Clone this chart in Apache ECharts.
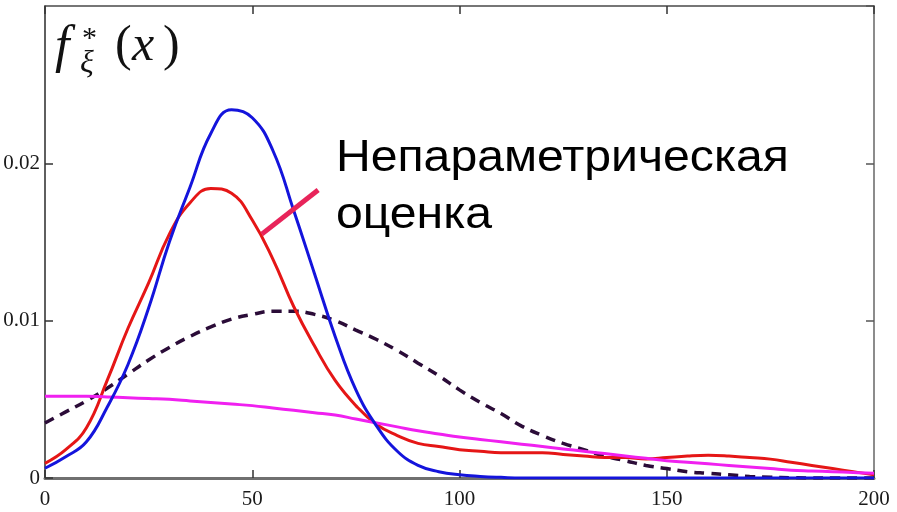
<!DOCTYPE html>
<html>
<head>
<meta charset="utf-8">
<script src="https://cdn.jsdelivr.net/npm/echarts@6/dist/echarts.min.js"></script>
<style>
  html, body { margin: 0; padding: 0; background: #ffffff; }
  #chart { width: 897px; height: 512px; }
</style>
</head>
<body>
<div id="chart"></div>
<script>
// Sample points along x (step 5, 0..200)
const xs = [0, 5, 10, 15, 20, 25, 30, 35, 40, 45, 50, 55, 60, 65, 70, 75, 80, 85, 90, 95,
            100, 105, 110, 115, 120, 125, 130, 135, 140, 145, 150, 155, 160, 165, 170, 175,
            180, 185, 190, 195, 200];

// Parametric density (narrow, blue)
const blueDensity = [0.00062, 0.00135, 0.0023, 0.0045, 0.0072, 0.0108, 0.0150, 0.0185, 0.0219, 0.0234,
                     0.0229, 0.0208, 0.0170, 0.0130, 0.0090, 0.0056, 0.0033, 0.0017, 0.0008, 0.0004,
                     0.0002, 0.0001, 0.00004, 0, 0, 0, 0, 0, 0, 0,
                     0, 0, 0, 0, 0, 0, 0, 0, 0, 0, 0];

// Nonparametric estimate (red)
const redDensity = [0.00093, 0.0018, 0.0032, 0.0062, 0.0095, 0.0124, 0.0155, 0.0175, 0.0184, 0.0181,
                    0.0164, 0.0139, 0.0109, 0.0084, 0.0062, 0.0046, 0.0034, 0.0027, 0.0022, 0.0020,
                    0.0018, 0.0017, 0.0016, 0.0016, 0.0016, 0.0015, 0.0014, 0.0013, 0.0013, 0.0012,
                    0.0013, 0.0014, 0.00145, 0.0014, 0.0013, 0.0012, 0.0010, 0.0008, 0.0006, 0.0004, 0.0002];

// Wide density (dashed)
const dashedDensity = [0.0035, 0.0042, 0.0049, 0.0057, 0.0066, 0.0075, 0.0083, 0.0090, 0.0096, 0.0101,
                       0.0104, 0.0106, 0.0106, 0.0104, 0.0100, 0.0094, 0.0088, 0.0081, 0.0073, 0.0065,
                       0.0056, 0.0048, 0.0041, 0.0033, 0.0027, 0.0022, 0.0018, 0.0014, 0.0011, 0.0008,
                       0.0006, 0.0004, 0.0003, 0.0002, 0.0001, 0.00005, 0.00002, 0, 0, 0, 0];

// Flat density (magenta)
const magentaDensity = [0.0052, 0.0052, 0.0052, 0.00515, 0.0051, 0.00505, 0.0050, 0.0049, 0.0048, 0.0047,
                        0.0046, 0.00445, 0.0043, 0.00415, 0.0040, 0.00375, 0.0035, 0.00325, 0.0030, 0.0028,
                        0.0026, 0.00245, 0.0023, 0.00215, 0.0020, 0.00185, 0.0017, 0.00155, 0.0014, 0.00125,
                        0.0011, 0.0010, 0.0009, 0.0008, 0.0007, 0.0006, 0.0005, 0.00045, 0.0004, 0.00035, 0.0003];

const xTicks = [0, 50, 100, 150, 200];
const yTicks = [0, 0.01, 0.02];

// Pointer from the caption to the red curve, in data coordinates
const pointerStart = [52.3, 0.0155];
const pointerEnd = [65.9, 0.0183];

const captionLines = ['Непараметрическая', 'оценка'];

function pairs(values) {
  return xs.map((x, i) => [x, values[i]]);
}

const serif = '"Liberation Serif", "DejaVu Serif", serif';
const sans = '"Liberation Sans", Arial, sans-serif';

const chart = echarts.init(document.getElementById('chart'), null, { renderer: 'canvas' });

const axisLabelStyle = { color: '#1a1a1a', fontFamily: serif, fontSize: 21 };
const smoothness = 0.45;

chart.setOption({
  animation: false,
  backgroundColor: '#ffffff',
  grid: { left: 45, right: 23, top: 6, bottom: 34, containLabel: false },
  xAxis: [
    {
      type: 'value', position: 'bottom', min: 0, max: 200, interval: 50,
      axisLine: { show: true, onZero: false, lineStyle: { color: '#707070', width: 3 } },
      axisTick: { show: true, inside: true, length: 8, lineStyle: { color: '#333', width: 1.5 } },
      axisLabel: {
        ...axisLabelStyle, margin: 11,
        formatter: v => (xTicks.indexOf(v) >= 0 ? String(v) : '')
      },
      splitLine: { show: false }
    },
    {
      type: 'value', position: 'top', min: 0, max: 200, interval: 50,
      axisLine: { show: true, onZero: false, lineStyle: { color: '#4a4a4a', width: 1.5 } },
      axisTick: { show: true, inside: true, length: 8, lineStyle: { color: '#333', width: 1.5 } },
      axisLabel: { show: false },
      splitLine: { show: false }
    }
  ],
  yAxis: [
    {
      type: 'value', position: 'left', min: 0, max: 0.03, interval: 0.01,
      axisLine: { show: true, onZero: false, lineStyle: { color: '#2a2a2a', width: 1.5 } },
      axisTick: { show: true, inside: true, length: 8, lineStyle: { color: '#333', width: 1.5 } },
      axisLabel: {
        ...axisLabelStyle, margin: 5, showMaxLabel: false,
        formatter: v => {
          const t = yTicks.find(k => Math.abs(k - v) < 1e-9);
          if (t === undefined) return '';
          return t === 0 ? '0' : t.toFixed(2);
        }
      },
      splitLine: { show: false }
    },
    {
      type: 'value', position: 'right', min: 0, max: 0.03, interval: 0.01,
      axisLine: { show: true, onZero: false, lineStyle: { color: '#666', width: 1.5 } },
      axisTick: { show: true, inside: true, length: 8, lineStyle: { color: '#555', width: 1.5 } },
      axisLabel: { show: false },
      splitLine: { show: false }
    }
  ],
  series: [
    {
      name: 'wide', type: 'line', data: pairs(dashedDensity), smooth: smoothness,
      showSymbol: false, symbol: 'none',
      lineStyle: { color: '#2b0c38', width: 3.5, type: [10, 7], cap: 'butt' }
    },
    {
      name: 'estimate', type: 'line', data: pairs(redDensity), smooth: smoothness,
      showSymbol: false, symbol: 'none',
      lineStyle: { color: '#e51616', width: 3 },
      markLine: {
        silent: true, symbol: ['none', 'none'], animation: false,
        label: { show: false },
        lineStyle: { color: '#e8245a', width: 5, type: 'solid' },
        data: [[{ coord: pointerStart }, { coord: pointerEnd }]]
      }
    },
    {
      name: 'flat', type: 'line', data: pairs(magentaDensity), smooth: smoothness,
      showSymbol: false, symbol: 'none',
      lineStyle: { color: '#f020f0', width: 3 }
    },
    {
      name: 'narrow', type: 'line', data: pairs(blueDensity), smooth: smoothness,
      showSymbol: false, symbol: 'none',
      lineStyle: { color: '#1414dc', width: 3 }
    }
  ],
  graphic: [
    // f*_ξ(x)
    { type: 'text', left: 55, top: 22, style: { text: 'f', font: 'italic 52px ' + serif, fill: '#111' } },
    { type: 'text', left: 82, top: 24, style: { text: '*', font: '30px ' + serif, fill: '#111' } },
    { type: 'text', left: 80, top: 48, style: { text: 'ξ', font: 'italic 32px ' + serif, fill: '#111' } },
    { type: 'text', left: 115, top: 22, style: { text: '(', font: '50px ' + serif, fill: '#111' } },
    { type: 'text', left: 132, top: 22, style: { text: 'x', font: 'italic 50px ' + serif, fill: '#111' } },
    { type: 'text', left: 163, top: 22, style: { text: ')', font: '50px ' + serif, fill: '#111' } },
    // Caption
    { type: 'text', x: 336, y: 136, scaleX: 1.07, style: { text: captionLines[0], font: '45px ' + sans, fill: '#000' } },
    { type: 'text', x: 336, y: 193, scaleX: 1.07, style: { text: captionLines[1], font: '45px ' + sans, fill: '#000' } }
  ]
});
</script>
</body>
</html>
